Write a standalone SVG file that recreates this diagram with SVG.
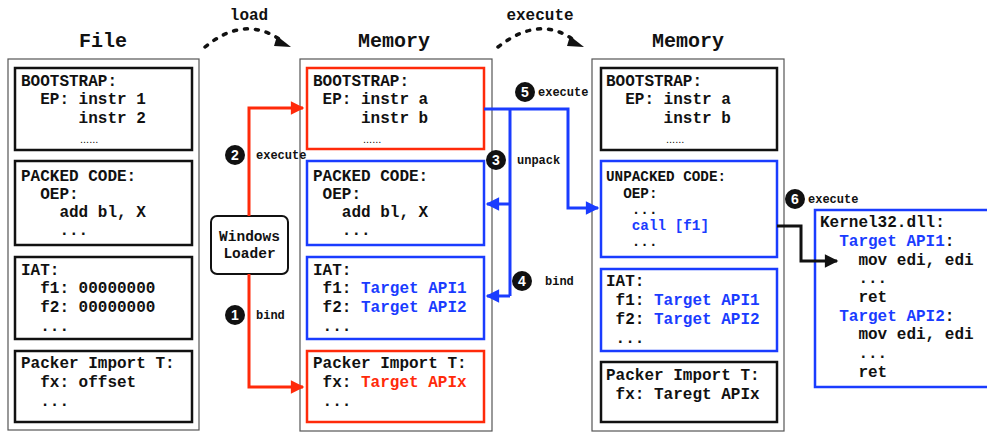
<svg xmlns="http://www.w3.org/2000/svg" width="987" height="432" viewBox="0 0 987 432">
<defs>
<style>
text{font-family:"Liberation Mono","DejaVu Sans Mono",monospace;font-weight:bold;fill:#111;white-space:pre}
.t{font-size:16px}
.s{font-size:14.3px}
.title{font-size:20px;text-anchor:middle}
.top{font-size:16px;text-anchor:middle}
.lbl{font-size:12px}
.dots{font-family:"Liberation Sans",Arial,sans-serif;font-weight:normal;font-size:11px}
.b{fill:#1a3cff}
.r{fill:#ff2a0a}
.outer{fill:#fff;stroke:#555;stroke-width:1.2}
.box{fill:#fff;stroke:#111;stroke-width:2.5}
.boxr{fill:#fff;stroke:#ff2a0a;stroke-width:2.5}
.boxb{fill:#fff;stroke:#1a3cff;stroke-width:2.5}
.badge{fill:#111}
.num{font-family:"Liberation Sans",Arial,sans-serif;font-weight:bold;font-size:14px;fill:#fff;text-anchor:middle}
.lr{fill:none;stroke:#ff2a0a;stroke-width:3}
.lb{fill:none;stroke:#1a3cff;stroke-width:3}
.lk{fill:none;stroke:#111;stroke-width:3}
.arc{fill:none;stroke:#111;stroke-width:3.5;stroke-dasharray:3 8;stroke-linecap:round}
</style>
<marker id="ar" viewBox="0 0 10 10" refX="9" refY="5" markerWidth="5" markerHeight="4.5" markerUnits="strokeWidth" orient="auto"><path d="M0,0L10,5L0,10z" fill="#ff2a0a"/></marker>
<marker id="ab" viewBox="0 0 10 10" refX="9" refY="5" markerWidth="5" markerHeight="4.5" markerUnits="strokeWidth" orient="auto"><path d="M0,0L10,5L0,10z" fill="#1a3cff"/></marker>
<marker id="ak" viewBox="0 0 10 10" refX="9" refY="5" markerWidth="5" markerHeight="4.5" markerUnits="strokeWidth" orient="auto"><path d="M0,0L10,5L0,10z" fill="#111"/></marker>
</defs>
<rect width="987" height="432" fill="#fff"/>

<!-- titles -->
<text class="title" x="103" y="47">File</text>
<text class="title" x="394" y="47">Memory</text>
<text class="title" x="688" y="47">Memory</text>
<text class="top" x="249" y="20">load</text>
<text class="top" x="540" y="20">execute</text>

<!-- File column -->
<g id="file">
<rect class="outer" x="8" y="59" width="191" height="371"/>
<g id="file-bootstrap">
<rect class="box" x="15" y="68" width="177" height="82"/>
<text class="t" x="21" y="86">BOOTSTRAP:</text>
<text class="t" x="21" y="104">  EP: instr 1</text>
<text class="t" x="21" y="123">      instr 2</text>
<text class="dots" x="80" y="143">......</text>
</g>
<g id="file-packed">
<rect class="box" x="15" y="161" width="177" height="84"/>
<text class="t" x="21" y="181">PACKED CODE:</text>
<text class="t" x="21" y="199">  OEP:</text>
<text class="t" x="21" y="217">    add bl, X</text>
<text class="t" x="21" y="235">    ...</text>
</g>
<g id="file-iat">
<rect class="box" x="15" y="257" width="177" height="82"/>
<text class="t" x="21" y="275">IAT:</text>
<text class="t" x="21" y="293">  f1: 00000000</text>
<text class="t" x="21" y="312">  f2: 00000000</text>
<text class="t" x="21" y="331">  ...</text>
</g>
<g id="file-pit">
<rect class="box" x="15" y="351" width="177" height="71"/>
<text class="t" x="21" y="368">Packer Import T:</text>
<text class="t" x="21" y="387">  fx: offset</text>
<text class="t" x="21" y="406">  ...</text>
</g>
</g>

<!-- Memory 1 -->
<g id="mem1">
<rect class="outer" x="300" y="59" width="192" height="372"/>
<g id="mem1-bootstrap">
<rect class="boxr" x="307" y="68" width="177" height="81"/>
<text class="t" x="313" y="86">BOOTSTRAP:</text>
<text class="t" x="313" y="104"> EP: instr a</text>
<text class="t" x="313" y="123">     instr b</text>
<text class="dots" x="363" y="143">......</text>
</g>
<g id="mem1-packed">
<rect class="boxb" x="307" y="161" width="177" height="84"/>
<text class="t" x="313" y="181">PACKED CODE:</text>
<text class="t" x="313" y="199"> OEP:</text>
<text class="t" x="313" y="217">   add bl, X</text>
<text class="t" x="313" y="235">   ...</text>
</g>
<g id="mem1-iat">
<rect class="boxb" x="307" y="257" width="177" height="82"/>
<text class="t" x="313" y="275">IAT:</text>
<text class="t" x="313" y="293"> f1: <tspan class="b">Target API1</tspan></text>
<text class="t" x="313" y="312"> f2: <tspan class="b">Target API2</tspan></text>
<text class="t" x="313" y="331"> ...</text>
</g>
<g id="mem1-pit">
<rect class="boxr" x="307" y="351" width="177" height="71"/>
<text class="t" x="313" y="368">Packer Import T:</text>
<text class="t" x="313" y="387"> fx: <tspan class="r">Target APIx</tspan></text>
<text class="t" x="313" y="406"> ...</text>
</g>
</g>

<!-- Memory 2 -->
<g id="mem2">
<rect class="outer" x="592" y="59" width="192" height="372"/>
<g id="mem2-bootstrap">
<rect class="box" x="601" y="68" width="176" height="82"/>
<text class="t" x="606" y="86">BOOTSTRAP:</text>
<text class="t" x="606" y="104">  EP: instr a</text>
<text class="t" x="606" y="123">      instr b</text>
<text class="dots" x="666" y="143">......</text>
</g>
<g id="mem2-unpacked">
<rect class="boxb" x="601" y="161" width="176" height="96"/>
<text class="s" x="606" y="181">UNPACKED CODE:</text>
<text class="s" x="606" y="198">  OEP:</text>
<text class="s" x="606" y="214">   ...</text>
<text class="s" x="606" y="230">   <tspan class="b">call [f1]</tspan></text>
<text class="s" x="606" y="246">   ...</text>
</g>
<g id="mem2-iat">
<rect class="boxb" x="601" y="269" width="176" height="82"/>
<text class="t" x="606" y="286">IAT:</text>
<text class="t" x="606" y="305"> f1: <tspan class="b">Target API1</tspan></text>
<text class="t" x="606" y="324"> f2: <tspan class="b">Target API2</tspan></text>
<text class="t" x="606" y="343"> ...</text>
</g>
<g id="mem2-pit">
<rect class="box" x="601" y="362" width="176" height="60"/>
<text class="t" x="606" y="380">Packer Import T:</text>
<text class="t" x="606" y="399"> fx: Taregt APIx</text>
</g>
</g>

<!-- Kernel32 -->
<g id="kernel32">
<rect class="boxb" x="815" y="210" width="180" height="177"/>
<text class="t" x="820" y="227">Kernel32.dll:</text>
<text class="t b" x="820" y="246">  Target API1<tspan fill="#111">:</tspan></text>
<text class="t" x="820" y="265">    mov edi, edi</text>
<text class="t" x="820" y="283">    ...</text>
<text class="t" x="820" y="302">    ret</text>
<text class="t b" x="820" y="321">  Target API2<tspan fill="#111">:</tspan></text>
<text class="t" x="820" y="339">    mov edi, edi</text>
<text class="t" x="820" y="358">    ...</text>
<text class="t" x="820" y="377">    ret</text>
</g>

<!-- Windows Loader -->
<g id="loader">
<rect x="211" y="216" width="77" height="58" rx="6" fill="#fff" stroke="#111" stroke-width="2"/>
<text class="t" x="249.5" y="241" text-anchor="middle" style="font-size:14.5px">Windows</text>
<text class="t" x="249.5" y="258" text-anchor="middle" style="font-size:14.5px">Loader</text>
</g>

<!-- connectors -->
<g id="connectors">
<path class="arc" d="M205,47 Q245,14 282,41" />
<path d="M277,36 L291,47 L274,46 Z" fill="#111"/>
<path class="arc" d="M498,47 Q540,14 575,41" />
<path d="M570,36 L584,47 L567,46 Z" fill="#111"/>

<path class="lr" d="M249,216 V108 H303" marker-end="url(#ar)"/>
<path class="lr" d="M249,274 V387 H303" marker-end="url(#ar)"/>

<path class="lb" d="M484,109 H568 V208 H598" marker-end="url(#ab)"/>
<path class="lb" d="M510,109 V296"/>
<path class="lb" d="M510,204 H487" marker-end="url(#ab)"/>
<path class="lb" d="M510,296 H487" marker-end="url(#ab)"/>

<path class="lk" d="M777,226 H801 V261 H837" marker-end="url(#ak)"/>

<circle class="badge" cx="235" cy="155" r="10"/><text class="num" x="235" y="160">2</text>
<text class="lbl" x="256" y="159">execute</text>
<circle class="badge" cx="235" cy="315" r="10"/><text class="num" x="235" y="320">1</text>
<text class="lbl" x="256" y="319">bind</text>
<circle class="badge" cx="496" cy="160" r="10"/><text class="num" x="496" y="165">3</text>
<text class="lbl" x="517" y="164">unpack</text>
<circle class="badge" cx="525" cy="92" r="10"/><text class="num" x="525" y="97">5</text>
<text class="lbl" x="538" y="96">execute</text>
<circle class="badge" cx="522" cy="281" r="10"/><text class="num" x="522" y="286">4</text>
<text class="lbl" x="545" y="285">bind</text>
<circle class="badge" cx="795" cy="199" r="10"/><text class="num" x="795" y="204">6</text>
<text class="lbl" x="808" y="203">execute</text>
</g>
</svg>
